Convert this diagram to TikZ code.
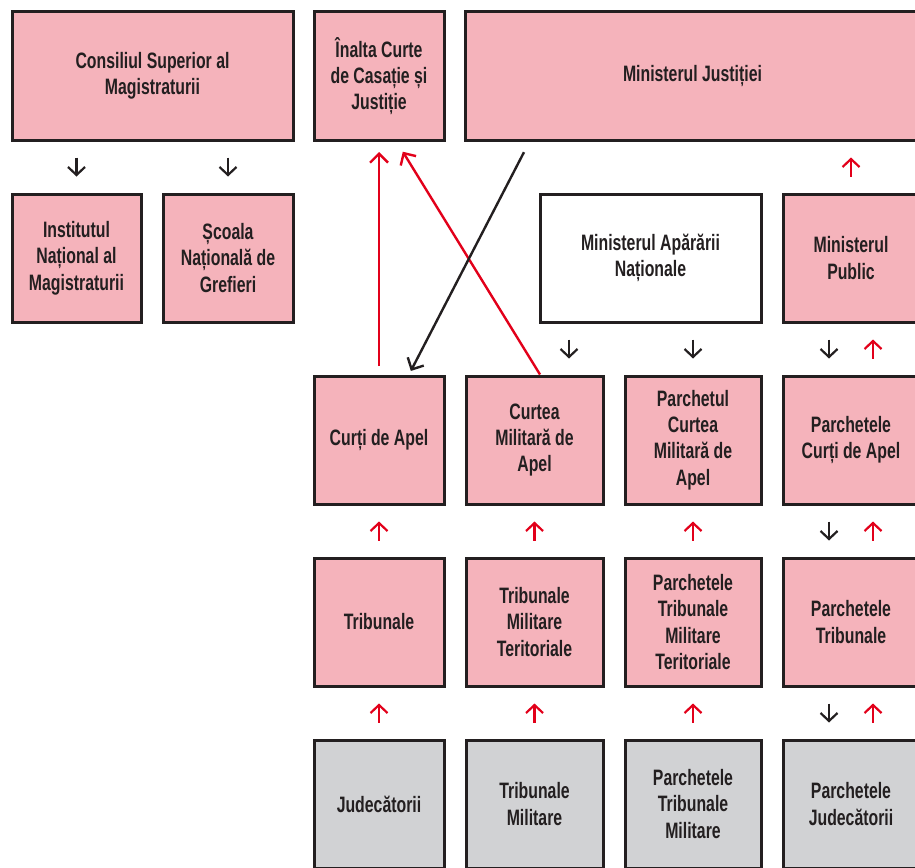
\documentclass[tikz,border=0pt]{standalone}
\usepackage{fontspec}
\newfontfamily\dinfont[FakeStretch=0.71]{Liberation Sans}
\usetikzlibrary{arrows.meta}
\definecolor{pinkc}{RGB}{245,179,187}
\definecolor{greyc}{RGB}{209,210,212}
\definecolor{linec}{RGB}{35,31,32}
\definecolor{redc}{RGB}{226,0,26}

\begin{document}
\begin{tikzpicture}[x=1pt,y=-1pt,
  box/.style={draw=linec,line width=3pt,fill=pinkc,minimum height=128pt,inner sep=0pt,align=center,text=linec,font=\dinfont\bfseries\fontsize{22.3}{26.3}\selectfont},
  greybox/.style={box,fill=greyc},
  whitebox/.style={box,fill=white},
  downarr/.style={draw=linec,line width=2.2pt,-{Straight Barb[length=8pt,width=17pt]},shorten <=16pt,shorten >=16pt},
  uparr/.style={downarr,draw=redc},
  link/.style={line width=2.4pt,-{Straight Barb[length=9pt,width=18pt]}}]
  \useasboundingbox (0,0) rectangle (915,867);
  \clip (0,0) rectangle (915,867);

  \node[box,minimum width=281] (csm) at (152.5,76) {Consiliul Superior al\\Magistraturii};
  \node[box,minimum width=130] (iccj) at (379,76) {Înalta Curte\\de Casație și\\Justiție};
  \node[box,minimum width=454] (mj) at (692.5,76) {Ministerul Justiției};

  \node[box,minimum width=129] (inm) at (76.5,258) {Institutul\\Național al\\Magistraturii};
  \node[box,minimum width=130] (sng) at (228,258) {Școala\\Națională de\\Grefieri};
  \node[whitebox,minimum width=221] (mapn) at (650.5,258) {Ministerul Apărării\\Naționale};
  \node[box,minimum width=136] (mp) at (851,258) {Ministerul\\Public};

  \node[box,minimum width=130] (cda) at (379,440) {Curți de Apel};
  \node[box,minimum width=137] (cma) at (534.5,440) {Curtea\\Militară de\\Apel};
  \node[box,minimum width=136] (pcma) at (693,440) {Parchetul\\Curtea\\Militară de\\Apel};
  \node[box,minimum width=136] (pca) at (851,440) {Parchetele\\Curți de Apel};

  \node[box,minimum width=130] (trib) at (379,622) {Tribunale};
  \node[box,minimum width=137] (tmt) at (534.5,622) {Tribunale\\Militare\\Teritoriale};
  \node[box,minimum width=136] (ptmt) at (693,622) {Parchetele\\Tribunale\\Militare\\Teritoriale};
  \node[box,minimum width=136] (pt) at (851,622) {Parchetele\\Tribunale};

  \node[greybox,minimum width=130] (jud) at (379,804) {Judecătorii};
  \node[greybox,minimum width=137] (tm) at (534.5,804) {Tribunale\\Militare};
  \node[greybox,minimum width=136] (ptm) at (693,804) {Parchetele\\Tribunale\\Militare};
  \node[greybox,minimum width=136] (pj) at (851,804) {Parchetele\\Judecătorii};

  % row 1 -> row 2
  \draw[downarr] (csm.south -| inm.north) -- (inm.north);
  \draw[downarr] (csm.south -| sng.north) -- (sng.north);
  \draw[uparr] (mp.north) -- (mj.south -| mp.north);

  % row 2 -> row 3
  \draw[downarr] ([xshift=34.5]cma.north |- mapn.south) -- ([xshift=34.5]cma.north);
  \draw[downarr] (mapn.south -| pcma.north) -- (pcma.north);
  \draw[downarr] ([xshift=-22]mp.south) -- ([xshift=-22]pca.north);
  \draw[uparr] ([xshift=22]pca.north) -- ([xshift=22]mp.south);

  % row 3 -> row 4
  \draw[uparr] (trib.north) -- (cda.south);
  \draw[uparr] (tmt.north) -- (cma.south);
  \draw[uparr] (ptmt.north) -- (pcma.south);
  \draw[downarr] ([xshift=-22]pca.south) -- ([xshift=-22]pt.north);
  \draw[uparr] ([xshift=22]pt.north) -- ([xshift=22]pca.south);

  % row 4 -> row 5
  \draw[uparr] (jud.north) -- (trib.south);
  \draw[uparr] (tm.north) -- (tmt.south);
  \draw[uparr] (ptm.north) -- (ptmt.south);
  \draw[downarr] ([xshift=-22]pt.south) -- ([xshift=-22]pj.north);
  \draw[uparr] ([xshift=22]pj.north) -- ([xshift=22]pt.south);

  % long links
  \draw[link,redc,shorten <=8.5pt,shorten >=10.5pt] (cda.north) -- (iccj.south);
  \draw[link,redc,shorten >=12pt] ([xshift=5.5]cma.north) -- ([xshift=17.5]iccj.south);
  \draw[link,linec,shorten <=12pt,shorten >=4pt] ([xshift=-163]mj.south) -- ([xshift=30]cda.north);
\end{tikzpicture}
\end{document}
